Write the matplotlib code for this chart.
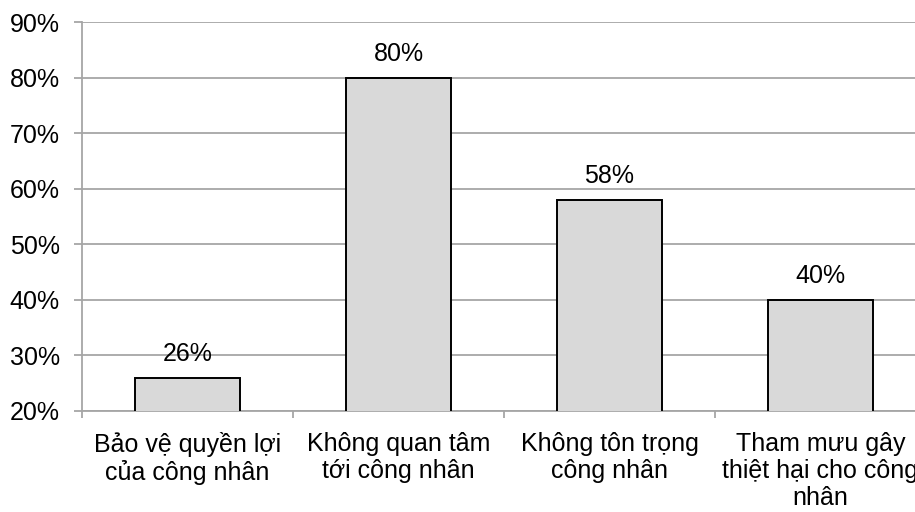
import matplotlib
matplotlib.use("Agg")
import matplotlib.pyplot as plt
from matplotlib.ticker import FixedLocator, FuncFormatter

plt.rcParams['font.family'] = ['Liberation Sans', 'DejaVu Sans']

categories = [
    "Bảo vệ quyền lợi\ncủa công nhân",
    "Không quan tâm\ntới công nhân",
    "Không tôn trọng\ncông nhân",
    "Tham mưu gây\nthiệt hại cho công\nnhân",
]
values = [26, 80, 58, 40]
value_labels = ["26%", "80%", "58%", "40%"]
y_ticks = [20, 30, 40, 50, 60, 70, 80, 90]

W, H = 915, 512
fig = plt.figure(figsize=(W / 100, H / 100), dpi=100)
ax = fig.add_axes([82 / W, 101 / H, 844 / W, 389 / H])

grid_color = "#a6a6a6"
fs = 18

x = list(range(len(categories)))
ax.bar(x, values, width=0.5, color="#d9d9d9", edgecolor="black",
       linewidth=1.4, zorder=3)

for xi, v, lab in zip(x, values, value_labels):
    ax.annotate(lab, (xi, v), xytext=(0, 8.5), textcoords="offset points",
                ha="center", va="bottom", fontsize=fs)

ax.set_xlim(-0.5, len(categories) - 0.5)
ax.set_ylim(20, 90)
ax.yaxis.set_major_locator(FixedLocator(y_ticks))
ax.yaxis.set_major_formatter(FuncFormatter(lambda v, p: f"{v:.0f}%"))
ax.yaxis.grid(True, color=grid_color, linewidth=1.3, zorder=0)
ax.set_axisbelow(True)

ax.set_xticks(x)
ax.set_xticklabels(categories, fontsize=fs, linespacing=1.15)
ax.set_xticks([i - 0.5 for i in range(len(categories) + 1)], minor=True)
ax.tick_params(axis="x", which="major", length=0, pad=15)
ax.tick_params(axis="x", which="minor", length=5, width=1.3, color=grid_color)
ax.tick_params(axis="y", length=6, width=1.3, color=grid_color, pad=10,
               labelsize=fs)

for side in ("top", "right"):
    ax.spines[side].set_visible(False)
for side in ("left", "bottom"):
    ax.spines[side].set_color(grid_color)
    ax.spines[side].set_linewidth(1.3)

fig.savefig("out.png", dpi=100)
